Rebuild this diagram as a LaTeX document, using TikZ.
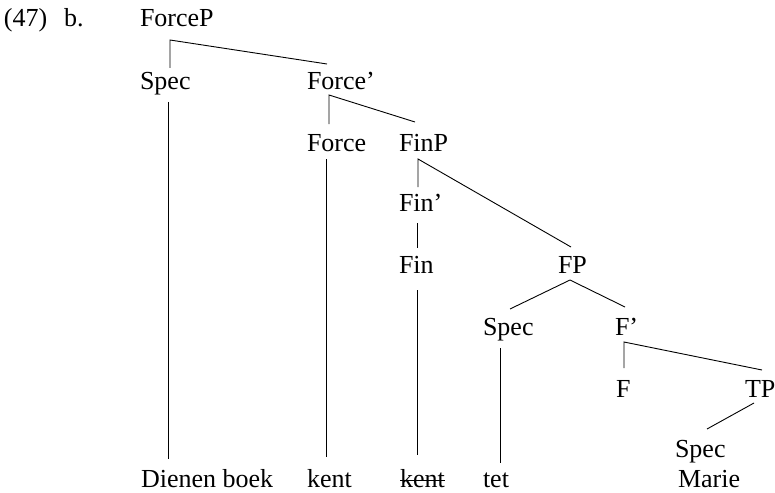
\documentclass[tikz,border=0pt]{standalone}
\usepackage{fontspec}
\setmainfont{Liberation Serif}
\begin{document}
\begin{tikzpicture}[x=1pt,y=-1pt,
  lbl/.style={anchor=base west,inner sep=0pt,outer sep=0pt,font=\fontsize{26}{31}\selectfont},
  edge/.style={line width=0.9pt,black}]
\useasboundingbox (0,0) rectangle (775,492);
% labels
\node[lbl] (num) at (4,27) {(47)};
\node[lbl] (b) at (64,27) {b.};
\node[lbl] (ForceP) at (140,27) {ForceP};
\node[lbl] (Spec1) at (140,89) {Spec};
\node[lbl] (Forcebar) at (307,89) {Force’};
\node[lbl] (Force) at (307,151) {Force};
\node[lbl] (FinP) at (399,151) {FinP};
\node[lbl] (Finbar) at (399,211) {Fin’};
\node[lbl] (Fin) at (399,273) {Fin};
\node[lbl] (FP) at (558,273) {FP};
\node[lbl] (Spec2) at (483,335) {Spec};
\node[lbl] (Fbar) at (615,335) {F’};
\node[lbl] (F) at (616,397) {F};
\node[lbl] (TP) at (745,397) {TP};
\node[lbl] (Spec3) at (675,457) {Spec};
\node[lbl] (w1) at (141,487) {Dienen boek};
\node[lbl] (w2) at (307,487) {kent};
\node[lbl] (w3) at (400,487) {kent};
\node[lbl] (w4) at (483,487) {tet};
\node[lbl] (w5) at (678,487) {Marie};
% strike-through
\draw[edge] ([yshift=7pt]w3.base west) -- ([yshift=7pt]w3.base east);
% attachment points
\coordinate (ForceP-b) at (170,40);
\coordinate (Spec1-t) at (170,68);
\coordinate (Forcebar-t) at (327,64);
\coordinate (Spec1-b) at (168,102);
\coordinate (w1-t) at (168,459);
\coordinate (Forcebar-b) at (329,95);
\coordinate (Force-t) at (329,124);
\coordinate (FinP-t) at (415,122);
\coordinate (Force-b) at (326,159);
\coordinate (w2-t) at (326,457);
\coordinate (FinP-b) at (418,159);
\coordinate (Finbar-t) at (418,187);
\coordinate (FP-t) at (571,247);
\coordinate (Finbar-b) at (417,223);
\coordinate (Fin-t) at (417,248);
\coordinate (Fin-b) at (417,290);
\coordinate (w3-t) at (417,455);
\coordinate (FP-b) at (570,280);
\coordinate (Spec2-t) at (510,309);
\coordinate (Fbar-t) at (625,307);
\coordinate (Spec2-b) at (500,348);
\coordinate (w4-t) at (500,463);
\coordinate (Fbar-b) at (624,342);
\coordinate (F-t) at (624,368);
\coordinate (TP-t) at (762,370);
\coordinate (TP-b) at (754,403);
\coordinate (Spec3-t) at (707,429);
% edges
\draw[edge] (Spec1-t) -- (ForceP-b) -- (Forcebar-t);
\draw[edge] (Spec1-b) -- (w1-t);
\draw[edge] (Force-t) -- (Forcebar-b) -- (FinP-t);
\draw[edge] (Force-b) -- (w2-t);
\draw[edge] (Finbar-t) -- (FinP-b) -- (FP-t);
\draw[edge] (Finbar-b) -- (Fin-t);
\draw[edge] (Fin-b) -- (w3-t);
\draw[edge] (Spec2-t) -- (FP-b) -- (Fbar-t);
\draw[edge] (Spec2-b) -- (w4-t);
\draw[edge] (F-t) -- (Fbar-b) -- (TP-t);
\draw[edge] (TP-b) -- (Spec3-t);
\end{tikzpicture}
\end{document}
